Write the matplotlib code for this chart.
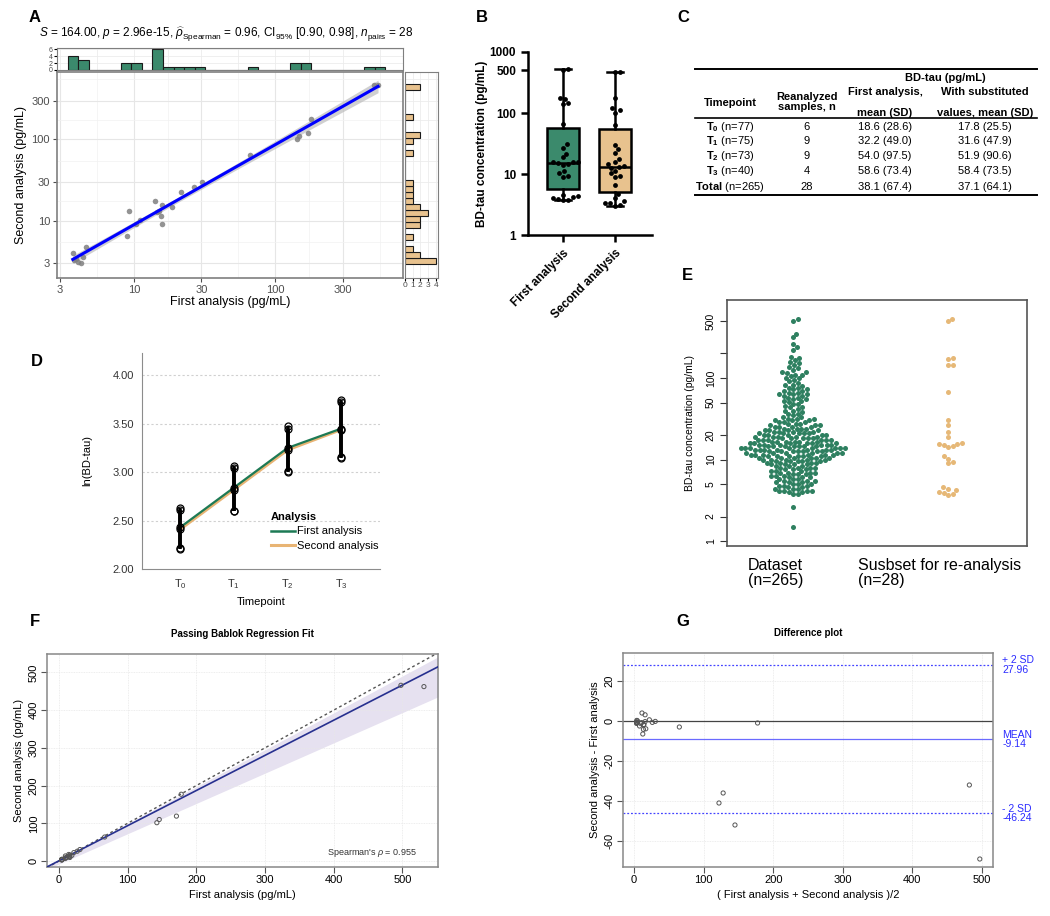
import numpy as np
import matplotlib
matplotlib.use("Agg")
import matplotlib.pyplot as plt
from matplotlib.lines import Line2D
from matplotlib.ticker import NullLocator

plt.rcParams["font.family"] = ["Liberation Sans", "DejaVu Sans"]
plt.rcParams["mathtext.fontset"] = "custom"
plt.rcParams["mathtext.rm"] = "Liberation Sans"
plt.rcParams["mathtext.it"] = "Liberation Sans:italic"
plt.rcParams["mathtext.bf"] = "Liberation Sans:bold"

W, H = 1050, 916

GREEN = "#3b8a6c"
TAN = "#e8c28e"
DOT_GREEN = "#2e8060"
DOT_TAN = "#e6b877"

# paired samples, pg/mL (28 re-analysed samples)
first_analysis = [3.7, 3.8, 3.9, 4.0, 4.2, 4.4, 4.6, 9.0, 9.3, 10.3, 11.0, 14.2, 14.5, 15.0,
                  15.5, 15.7, 15.9, 18.7, 21.6, 26.5, 30.5, 66.5, 142.5, 146.0, 171.0, 178.0,
                  498.0, 531.5]
second_analysis = [4.0, 3.3, 3.4, 3.1, 3.0, 3.6, 4.7, 6.5, 13.3, 9.0, 10.2, 17.3, 12.7, 13.2,
                   11.3, 9.2, 15.6, 14.8, 22.2, 25.8, 30.3, 63.5, 101.5, 110.0, 119.0, 177.0,
                   466.0, 462.5]

# panel C table
tbl_timepoints = [r"$\mathbf{T_0}$ (n=77)", r"$\mathbf{T_1}$ (n=75)", r"$\mathbf{T_2}$ (n=73)",
                  r"$\mathbf{T_3}$ (n=40)", r"$\mathbf{Total}$ (n=265)"]
tbl_n = ["6", "9", "9", "4", "28"]
tbl_first = ["18.6 (28.6)", "32.2 (49.0)", "54.0 (97.5)", "58.6 (73.4)", "38.1 (67.4)"]
tbl_subst = ["17.8 (25.5)", "31.6 (47.9)", "51.9 (90.6)", "58.4 (73.5)", "37.1 (64.1)"]

# panel D, ln(BD-tau) mean and CI per timepoint
timepoints = [r"T$_0$", r"T$_1$", r"T$_2$", r"T$_3$"]
d_first_mean = [2.43, 2.84, 3.25, 3.45]
d_first_lo = [2.22, 2.60, 3.01, 3.16]
d_first_hi = [2.63, 3.06, 3.48, 3.74]
d_second_mean = [2.41, 2.82, 3.23, 3.44]
d_second_lo = [2.21, 2.60, 3.00, 3.15]
d_second_hi = [2.61, 3.04, 3.45, 3.72]

# panel E, whole dataset (n=265) as concentration (pg/mL) -> number of samples
e_levels = [1.5, 2.6,
            3.80, 3.98, 4.17, 4.37, 4.57, 4.79, 5.01, 5.25, 5.50, 5.75,
            6.03, 6.31, 6.61, 6.92, 7.24, 7.59, 7.94, 8.32, 8.71, 9.12,
            9.55, 10.0, 10.5, 11.0, 11.5, 12.0, 12.6, 13.2, 13.8, 14.5,
            15.1, 15.8, 16.6, 17.4, 18.2, 19.1, 20.0, 20.9, 21.9, 22.9,
            24.0, 25.1, 26.3, 27.5, 28.8, 30.2, 31.6, 33.1, 34.7, 36.3,
            38.0, 39.8, 41.7, 43.7, 45.7, 47.9, 50.1, 52.5, 55.0, 57.5,
            60.3, 63.1, 66.1, 69.2, 72.4, 75.9, 79.4, 83.2, 87.1, 91.2,
            95.5, 100.0, 105.0, 110.0, 115.0, 120.0, 126.0, 132.0, 138.0, 145.0,
            151.0, 158.0, 166.0, 174.0, 182.0,
            219.0, 240.0, 263.0, 316.0, 347.0, 501.0, 525.0]
e_counts = [1, 1,
            2, 2, 4, 3, 2, 3, 3, 3, 3, 3,
            3, 3, 3, 4, 3, 3, 4, 3, 4, 4,
            5, 5, 6, 6, 6, 6, 7, 7, 8, 7,
            6, 6, 6, 6, 5, 5, 5, 5, 4, 4,
            4, 4, 3, 3, 3, 3, 3, 2, 1, 2,
            1, 2, 1, 2, 1, 2, 1, 2, 2, 2,
            2, 3, 2, 2, 2, 2, 1, 2, 1, 1,
            1, 2, 1, 2, 1, 2, 1, 1, 1, 1,
            1, 1, 1, 1, 1,
            1, 1, 1, 1, 1, 1, 1]

# panel F, Passing-Bablok fit
pb_intercept, pb_slope = 0.5, 0.932
pb_lo_intercept, pb_lo_slope = -8.0, 0.803
pb_hi_intercept, pb_hi_slope = 1.5, 0.978

# panel G, Bland-Altman stats
ba_mean, ba_upper, ba_lower = -9.14, 27.96, -46.24

fig = plt.figure(figsize=(W / 100, H / 100), dpi=100)


def px_axes(x0, y0, x1, y1):
    return fig.add_axes([x0 / W, 1 - y1 / H, (x1 - x0) / W, (y1 - y0) / H])


def swarm(ypx, d):
    """x offsets (px) so that circles of diameter d do not overlap."""
    xs = np.zeros(len(ypx))
    placed = []
    for i in np.argsort(ypx, kind="stable"):
        y = ypx[i]
        near = [(px, py) for px, py in placed if abs(py - y) < d]
        cands = [0.0]
        for px, py in near:
            dx = np.sqrt(d * d - (py - y) ** 2)
            cands += [px + dx, px - dx]
        cands.sort(key=abs)
        for c in cands:
            if all((c - px) ** 2 + (y - py) ** 2 >= d * d - 1e-6 for px, py in near):
                xs[i] = c
                break
        placed.append((xs[i], y))
    return xs


x1 = np.array(first_analysis)
y1 = np.array(second_analysis)

# ---------------- A: scatter with marginal histograms
axA = px_axes(57, 72, 403, 278)
axA.set_xscale("log")
axA.set_yscale("log")
axA.set_xlim(2.86, 798)
axA.set_ylim(1.96, 678)
lx, ly = np.log10(x1), np.log10(y1)
b, a = np.polyfit(lx, ly, 1)
xs = np.linspace(lx.min(), lx.max(), 100)
fit = a + b * xs
n = len(lx)
s = np.sqrt(np.sum((ly - (a + b * lx)) ** 2) / (n - 2))
se = s * np.sqrt(1 / n + (xs - lx.mean()) ** 2 / np.sum((lx - lx.mean()) ** 2))
axA.fill_between(10 ** xs, 10 ** (fit - 2.056 * se), 10 ** (fit + 2.056 * se),
                 color="#bdbdbd", alpha=0.7, lw=0, zorder=2)
axA.scatter(x1, y1, s=16, color="#808080", alpha=0.85, lw=0, zorder=3)
axA.plot(10 ** xs, 10 ** fit, color="#0000ff", lw=2.2, zorder=4)
major = [3, 10, 30, 100, 300]
minor = [10 ** 0.739, 10 ** 1.239, 10 ** 1.739, 10 ** 2.239, 10 ** 2.739]
for axis in (axA.xaxis, axA.yaxis):
    axis.set_major_locator(matplotlib.ticker.FixedLocator(major))
    axis.set_major_formatter(matplotlib.ticker.FixedFormatter([str(m) for m in major]))
    axis.set_minor_locator(matplotlib.ticker.FixedLocator(minor))
    axis.set_minor_formatter(matplotlib.ticker.NullFormatter())
axA.grid(True, which="major", color="#e6e6e6", lw=0.8, zorder=0)
axA.grid(True, which="minor", color="#f2f2f2", lw=0.5, zorder=0)
axA.set_axisbelow(True)
axA.tick_params(which="major", length=3, color="#4d4d4d", labelsize=8, labelcolor="#4d4d4d",
                pad=2)
axA.tick_params(which="minor", length=0)
for sp in axA.spines.values():
    sp.set_color("#7f7f7f")
    sp.set_linewidth(1.2)
axA.set_xlabel("First analysis (pg/mL)", fontsize=9, labelpad=1)
axA.set_ylabel("Second analysis (pg/mL)", fontsize=9, labelpad=3)

axAt = px_axes(57, 48, 403, 70)
axAt.set_xscale("log")
axAt.set_xlim(axA.get_xlim())
axAt.hist(x1, bins=np.logspace(np.log10(3.4), np.log10(600), 31), color=GREEN,
          edgecolor="#1a1a1a", lw=0.8, zorder=2)
axAt.set_ylim(0, 6.4)
axAt.set_yticks([0, 2, 4, 6])
axAt.xaxis.set_major_locator(matplotlib.ticker.FixedLocator(major))
axAt.xaxis.set_minor_locator(matplotlib.ticker.FixedLocator(minor))
axAt.tick_params(axis="x", which="both", length=0, labelbottom=False)
axAt.tick_params(axis="y", length=2, labelsize=5, pad=1, labelcolor="#4d4d4d")
axAt.grid(True, which="both", color="#ececec", lw=0.6, zorder=0)
axAt.set_axisbelow(True)
for sp in axAt.spines.values():
    sp.set_color("#7f7f7f")

axAr = px_axes(405, 72, 438, 278)
axAr.set_yscale("log")
axAr.set_ylim(axA.get_ylim())
axAr.hist(y1, bins=np.logspace(np.log10(2.9), np.log10(480), 31), orientation="horizontal",
          color=TAN, edgecolor="#1a1a1a", lw=0.8, zorder=2)
axAr.set_xlim(0, 4.3)
axAr.set_xticks([0, 1, 2, 3, 4])
axAr.yaxis.set_major_locator(matplotlib.ticker.FixedLocator(major))
axAr.yaxis.set_minor_locator(matplotlib.ticker.FixedLocator(minor))
axAr.tick_params(axis="y", which="both", length=0, labelleft=False)
axAr.tick_params(axis="x", length=2, labelsize=6, pad=1, labelcolor="#4d4d4d")
axAr.grid(True, which="both", color="#ececec", lw=0.6, zorder=0)
axAr.set_axisbelow(True)
for sp in axAr.spines.values():
    sp.set_color("#7f7f7f")

# ---------------- B: box plots with points (min-max whiskers)
axB = px_axes(528, 52, 652, 235)
axB.set_yscale("log")
axB.set_ylim(1, 1000)
axB.set_xlim(0.33, 2.71)
lw_b = 1.8
stats = []
for vals in (first_analysis, second_analysis):
    q1, med, q3 = np.percentile(vals, [25, 50, 75], method="weibull")
    stats.append(dict(med=med, q1=q1, q3=q3, whislo=min(vals), whishi=max(vals), fliers=[]))
bp = axB.bxp(stats, positions=[1, 2], widths=0.6, patch_artist=True, showfliers=False,
             capwidths=0.32, medianprops=dict(color="black", lw=lw_b),
             boxprops=dict(lw=lw_b), whiskerprops=dict(lw=lw_b), capprops=dict(lw=lw_b))
for patch, col in zip(bp["boxes"], [GREEN, TAN]):
    patch.set_facecolor(col)
for pos, vals in [(1, first_analysis), (2, second_analysis)]:
    v = np.array(vals)
    off = swarm(np.log10(v) * 61.0, 5.2)
    axB.scatter(pos + off / 52.0, v, s=12, color="black", lw=0, zorder=5)
axB.set_yticks([1, 10, 100, 500, 1000])
axB.set_yticklabels(["1", "10", "100", "500", "1000"], fontweight="bold")
axB.yaxis.set_minor_locator(NullLocator())
axB.set_xticks([1, 2])
axB.set_xticklabels(["First analysis", "Second analysis"], rotation=45, ha="right",
                    rotation_mode="anchor", fontweight="bold", fontsize=9)
axB.tick_params(width=lw_b, length=5, labelsize=8.5)
for side in ["top", "right"]:
    axB.spines[side].set_visible(False)
for side in ["left", "bottom"]:
    axB.spines[side].set_linewidth(lw_b)
axB.set_ylabel("BD-tau concentration (pg/mL)", fontsize=8.5, fontweight="bold", labelpad=1)

# ---------------- D: ln(BD-tau) over time
axD = px_axes(142, 353, 380, 569)
tx = np.arange(len(timepoints))
axD.set_xlim(-0.71, 3.72)
axD.set_ylim(2.0, 4.23)
for yv in [2.5, 3.0, 3.5, 4.0]:
    axD.axhline(yv, color="#d0d0d0", lw=0.8, ls=(0, (2, 2)), zorder=0)
axD.plot(tx, d_second_mean, color="#e8b474", lw=2.2, zorder=2)
axD.plot(tx, d_first_mean, color="#1d7a55", lw=1.6, zorder=2)
for m, lo, hi in [(d_first_mean, d_first_lo, d_first_hi), (d_second_mean, d_second_lo, d_second_hi)]:
    axD.vlines(tx, lo, hi, color="black", lw=2.6, zorder=3)
    for vals in (lo, m, hi):
        axD.plot(tx, vals, "o", mfc="none", mec="black", ms=5, mew=0.9, zorder=4)
axD.set_xticks(tx)
axD.set_xticklabels(timepoints)
axD.set_yticks([2.0, 2.5, 3.0, 3.5, 4.0])
axD.set_yticklabels(["2.00", "2.50", "3.00", "3.50", "4.00"])
axD.tick_params(length=0, labelsize=8, labelcolor="#333333", pad=6)
for side in ["top", "right"]:
    axD.spines[side].set_visible(False)
for side in ["left", "bottom"]:
    axD.spines[side].set_color("#8c8c8c")
axD.set_xlabel("Timepoint", fontsize=8, labelpad=4)
axD.set_ylabel("ln(BD-tau)", fontsize=8, labelpad=14)
handles = [Line2D([], [], color="#1d7a55", lw=1.8), Line2D([], [], color="#e8b474", lw=2.2)]
leg = axD.legend(handles, ["First analysis", "Second analysis"], title="Analysis",
                 loc="upper left", bbox_to_anchor=(0.5, 0.31), frameon=False, fontsize=8,
                 title_fontsize=8, handlelength=2.2, handletextpad=0.1, labelspacing=0.4)
leg.get_title().set_fontweight("bold")
leg._legend_box.align = "left"

# ---------------- E: beeswarm of dataset vs subset
axE = px_axes(727, 300, 1027, 546)
axE.set_yscale("log")
axE.set_ylim(0.87, 906)
axE.set_xlim(0.574, 2.51)
e_values = np.repeat(e_levels, e_counts)
e_scale = 246 / (np.log10(906) - np.log10(0.87))
for pos, vals, col in [(1, e_values, DOT_GREEN), (2, x1, DOT_TAN)]:
    off = swarm(np.log10(vals) * e_scale, 4.8)
    axE.scatter(pos + off / 155.0, vals, s=13, color=col, lw=0, zorder=3)
axE.set_yticks([1, 2, 5, 10, 20, 50, 100, 200, 500])
axE.set_yticklabels(["1", "2", "5", "10", "20", "50", "100", "", "500"], rotation=90, va="center")
axE.yaxis.set_minor_locator(NullLocator())
axE.set_xticks([])
axE.tick_params(axis="y", length=5, labelsize=7.5, color="#333333", pad=3)
for sp in axE.spines.values():
    sp.set_color("#555555")
    sp.set_linewidth(1.2)
axE.set_ylabel("BD-tau concentration (pg/mL)", fontsize=7.5, labelpad=8)

# ---------------- F: Passing-Bablok regression
axF = px_axes(47, 654, 438, 867)
axF.set_xlim(-17.5, 552)
axF.set_ylim(-16, 549)
gx = np.linspace(-17.5, 552, 50)
axF.fill_between(gx, pb_lo_intercept + pb_lo_slope * gx, pb_hi_intercept + pb_hi_slope * gx,
                 color="#e6e1f0", lw=0, zorder=1)
axF.plot(gx, gx, color="#555555", lw=1, ls=(0, (2, 2)), zorder=2)
axF.plot(gx, pb_intercept + pb_slope * gx, color="#27308f", lw=1.2, zorder=3)
axF.scatter(x1, y1, s=9, facecolor="none", edgecolor="#555555", lw=0.7, zorder=4)
axF.set_xticks(range(0, 501, 100))
axF.set_yticks(range(0, 501, 100))
axF.set_yticklabels([str(v) for v in range(0, 501, 100)], rotation=90, va="center")
axF.grid(True, color="#e8e8e8", lw=0.6, ls=(0, (1, 1)), zorder=0)
axF.tick_params(length=4, labelsize=8, color="#555555", pad=2)
for sp in axF.spines.values():
    sp.set_color("#888888")
    sp.set_linewidth(1.1)
axF.text(456, 20, r"Spearman's $\rho$ = 0.955", fontsize=6.5, ha="center", va="center",
         color="#333333")
axF.set_xlabel("First analysis (pg/mL)", fontsize=8, labelpad=3)
axF.set_ylabel("Second analysis (pg/mL)", fontsize=8, labelpad=3)
axF.set_title("Passing Bablok Regression Fit", fontsize=7, fontweight="bold", pad=12)

# ---------------- G: difference plot
axG = px_axes(623, 653, 993, 867)
axG.set_xlim(-16, 516)
axG.set_ylim(-73, 34)
g_mean = (x1 + y1) / 2
g_diff = y1 - x1
axG.axhline(0, color="#444444", lw=0.9, zorder=2)
axG.axhline(ba_mean, color="#6a6aff", lw=0.9, zorder=2)
for yv in (ba_upper, ba_lower):
    axG.axhline(yv, color="#4444ff", lw=0.9, ls=(0, (1.5, 1.5)), zorder=2)
axG.scatter(g_mean, g_diff, s=9, facecolor="none", edgecolor="#555555", lw=0.7, zorder=3)
axG.set_xticks(range(0, 501, 100))
axG.set_yticks([-60, -40, -20, 0, 20])
axG.set_yticklabels(["-60", "-40", "-20", "0", "20"], rotation=90, va="center")
axG.grid(True, color="#e8e8e8", lw=0.6, ls=(0, (1, 1)), zorder=0)
axG.tick_params(length=4, labelsize=8, color="#555555", pad=2)
for sp in axG.spines.values():
    sp.set_color("#888888")
    sp.set_linewidth(1.1)
for yv, lab in [(ba_upper, "+ 2 SD\n%.2f" % ba_upper), (ba_mean, "MEAN\n%.2f" % ba_mean),
                (ba_lower, "- 2 SD\n%.2f" % ba_lower)]:
    axG.text(1.025, yv, lab, transform=axG.get_yaxis_transform(), color="#2a2aff",
             fontsize=7.5, va="center", ha="left", linespacing=0.9)
axG.set_xlabel("( First analysis + Second analysis )/2", fontsize=8, labelpad=3)
axG.set_ylabel("Second analysis - First analysis", fontsize=8, labelpad=3)
axG.set_title("Difference plot", fontsize=7, fontweight="bold", pad=12)

# ---------------- overlay: panel letters, A stats line, E group labels, C table
ov = px_axes(0, 0, W, H)
ov.set_xlim(0, W)
ov.set_ylim(H, 0)
ov.axis("off")
ov.patch.set_alpha(0)
for lab, (px, py) in {"A": (35, 17), "B": (482, 17), "C": (683, 17), "D": (37, 362),
                      "E": (687, 275), "F": (35, 622), "G": (683, 622)}.items():
    ov.text(px, py, lab, fontsize=12, fontweight="bold", ha="center", va="center")

ov.text(226, 34, r"$\it{S}$ = 164.00, $\it{p}$ = 2.96e-15, $\widehat{\rho}_{\rm Spearman}$ = 0.96, "
        r"CI$_{95\%}$ [0.90, 0.98], $\it{n}_{\rm pairs}$ = 28", fontsize=8.5, ha="center",
        va="center")

ov.text(748, 573, "Dataset\n(n=265)", fontsize=11.5, ha="left", va="center", linespacing=1.0)
ov.text(858, 573, "Susbset for re-analysis\n(n=28)", fontsize=11.5, ha="left", va="center",
        linespacing=1.0)

tx0, tx1 = 695, 1037
ov.plot([tx0, tx1], [69, 69], color="black", lw=1.4)
ov.plot([tx0, tx1], [118, 118], color="black", lw=1.2)
ov.plot([tx0, tx1], [195, 195], color="black", lw=1.4)
col_x = [730, 807, 885, 985]
ov.text(945, 78, "BD-tau (pg/mL)", fontsize=8, fontweight="bold", ha="center", va="center")
ov.text(col_x[0], 103, "Timepoint", fontsize=8, fontweight="bold", ha="center", va="center")
ov.text(col_x[1], 102, "Reanalyzed\nsamples, n", fontsize=8, fontweight="bold", ha="center",
        va="center", linespacing=1.1)
ov.text(col_x[2], 92, "First analysis,", fontsize=8, fontweight="bold", ha="center", va="center")
ov.text(col_x[2], 113, "mean (SD)", fontsize=8, fontweight="bold", ha="center", va="center")
ov.text(col_x[3], 92, "With substituted", fontsize=8, fontweight="bold", ha="center", va="center")
ov.text(col_x[3], 113, "values, mean (SD)", fontsize=8, fontweight="bold", ha="center",
        va="center")
row_y = [127, 141.5, 156, 170.5, 187]
for i, ry in enumerate(row_y):
    for cx, val in zip(col_x, [tbl_timepoints[i], tbl_n[i], tbl_first[i], tbl_subst[i]]):
        ov.text(cx, ry, val, fontsize=8, ha="center", va="center")

fig.savefig("out.png", dpi=100)
